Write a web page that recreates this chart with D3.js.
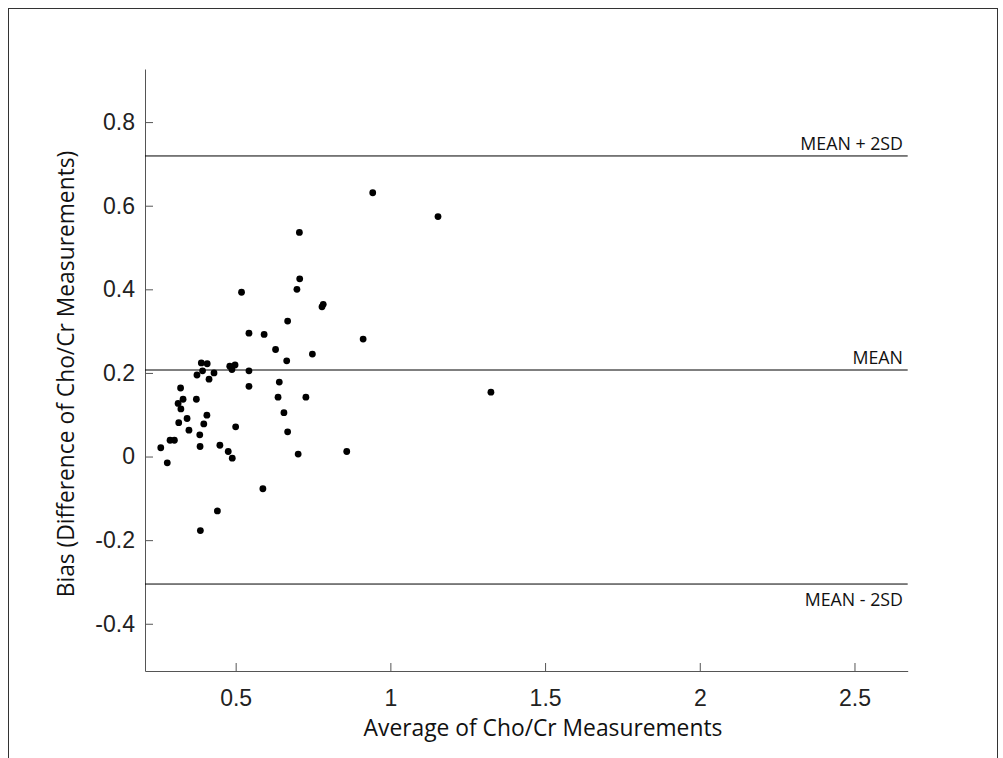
<!DOCTYPE html>
<html lang="en">
<head>
  <meta charset="utf-8">
  <title>Bland-Altman Cho/Cr</title>
  <script src="https://d3js.org/d3.v7.min.js"></script>
  <style>
    body { margin: 0; background: #fff; }
  </style>
</head>
<body>
<div id="my_dataviz"></div>

<script>
const avgValues = [
  0.519, 0.698, 0.707, 0.668, 0.543, 0.592, 0.629, 0.665, 0.389, 0.408,
  0.393, 0.375, 0.430, 0.414, 0.481, 0.498, 0.488, 0.543, 0.543, 0.641,
  0.637, 0.656, 0.668, 0.702, 0.322, 0.330, 0.314, 0.323, 0.373, 0.343,
  0.316, 0.349, 0.407, 0.397, 0.384, 0.385, 0.500, 0.288, 0.302, 0.258,
  0.279, 0.449, 0.476, 0.489, 0.588, 0.441, 0.386, 0.943, 1.154, 0.706,
  0.783, 0.779, 0.912, 0.748, 0.727, 0.859, 1.325
];
const diffValues = [
  0.393, 0.400, 0.425, 0.324, 0.295, 0.292, 0.256, 0.229, 0.224, 0.222,
  0.205, 0.195, 0.200, 0.185, 0.216, 0.219, 0.208, 0.205, 0.168, 0.178,
  0.142, 0.105, 0.059, 0.006, 0.164, 0.137, 0.127, 0.114, 0.137, 0.091,
  0.081, 0.063, 0.099, 0.078, 0.052, 0.024, 0.071, 0.039, 0.039, 0.021,
  -0.015, 0.027, 0.012, -0.004, -0.077, -0.130, -0.177, 0.631, 0.574, 0.536,
  0.364, 0.358, 0.281, 0.245, 0.142, 0.012, 0.154
];

// limits of agreement
const refNames = ["MEAN + 2SD", "MEAN", "MEAN - 2SD"];
const refValues = [0.719, 0.207, -0.305];

const xTicks = [0.5, 1, 1.5, 2, 2.5];
const yTicks = [-0.4, -0.2, 0, 0.2, 0.4, 0.6, 0.8];

const W = 1003, H = 758;
const plot = {left: 145, right: 907.7, top: 69, bottom: 671};

const svg = d3.select("#my_dataviz")
  .append("svg")
    .attr("width", W)
    .attr("height", H);

// outer frame
svg.append("rect")
  .attr("x", 8.5).attr("y", 8.5)
  .attr("width", 989).attr("height", 800)
  .attr("fill", "none")
  .attr("stroke", "#333")
  .attr("stroke-width", 1);

const x = d3.scaleLinear()
  .domain([0.207, 2.672])
  .range([plot.left, plot.right]);

const y = d3.scaleLinear()
  .domain([-0.513, 0.927])
  .range([plot.bottom, plot.top]);

// axes, ticks pointing inward like matlab
const xAxis = svg.append("g")
  .attr("transform", `translate(0,${plot.bottom})`)
  .call(d3.axisBottom(x).tickValues(xTicks).tickFormat(d => String(d))
    .tickSizeInner(-8).tickSizeOuter(0).tickPadding(19));

const yAxis = svg.append("g")
  .attr("transform", `translate(${plot.left},0)`)
  .call(d3.axisLeft(y).tickValues(yTicks).tickFormat(d => String(d))
    .tickSizeInner(-8).tickSizeOuter(0).tickPadding(10));

svg.selectAll(".domain, .tick line")
  .attr("stroke", "#555")
  .attr("stroke-width", 1);

svg.selectAll(".tick text")
  .attr("fill", "#222")
  .style("font-family", "'Liberation Sans', Arial, sans-serif")
  .style("font-size", "23px");

// reference lines
svg.selectAll(".ref")
  .data(refValues)
  .join("line")
    .attr("class", "ref")
    .attr("x1", plot.left)
    .attr("x2", plot.right)
    .attr("y1", d => y(d))
    .attr("y2", d => y(d))
    .attr("stroke", "#000")
    .attr("stroke-width", 1);

// labels sit above the line, except the lower limit which sits below
svg.selectAll(".refLabel")
  .data(refValues)
  .join("text")
    .attr("class", "refLabel")
    .attr("x", 903)
    .attr("y", (d, i) => i === 2 ? y(d) + 22 : y(d) - 6)
    .attr("text-anchor", "end")
    .style("font-family", "'Open Sans', sans-serif")
    .style("font-size", "17.8px")
    .attr("fill", "#111")
    .text((d, i) => refNames[i]);

// points
svg.selectAll(".dot")
  .data(avgValues)
  .join("circle")
    .attr("class", "dot")
    .attr("cx", d => x(d))
    .attr("cy", (d, i) => y(diffValues[i]))
    .attr("r", 3.4)
    .attr("fill", "#000");

// axis titles
svg.append("text")
  .attr("x", 543)
  .attr("y", 736)
  .attr("text-anchor", "middle")
  .style("font-family", "'Open Sans', sans-serif")
  .style("font-size", "22.8px")
  .attr("fill", "#111")
  .text("Average of Cho/Cr Measurements");

svg.append("text")
  .attr("transform", "translate(74,374) rotate(-90)")
  .attr("text-anchor", "middle")
  .style("font-family", "'Open Sans', sans-serif")
  .style("font-size", "22.8px")
  .attr("fill", "#111")
  .text("Bias (Difference of Cho/Cr Measurements)");
</script>
</body>
</html>
